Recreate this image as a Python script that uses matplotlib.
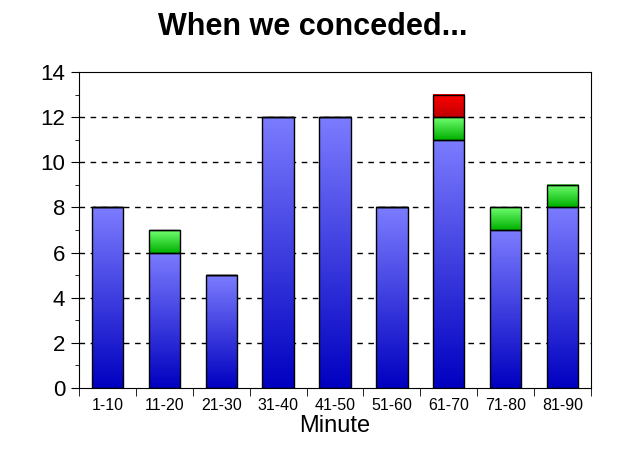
import numpy as np
import matplotlib.pyplot as plt
from matplotlib.colors import LinearSegmentedColormap
from matplotlib.ticker import MultipleLocator, FixedLocator

plt.rcParams['font.family'] = ['Liberation Sans', 'DejaVu Sans']

# data
categories = ['1-10', '11-20', '21-30', '31-40', '41-50', '51-60', '61-70', '71-80', '81-90']
blue_vals = [8, 6, 5, 12, 12, 8, 11, 7, 8]
green_vals = [0, 1, 0, 0, 0, 0, 1, 1, 1]
red_vals = [0, 0, 0, 0, 0, 0, 1, 0, 0]

fig = plt.figure(figsize=(6.25, 4.67), dpi=100)
ax = fig.add_axes([0.1264, 0.1692, 0.8192, 0.6766])

x = np.arange(len(categories))
w = 0.55

b1 = ax.bar(x, blue_vals, w, facecolor='none', edgecolor='black', linewidth=1, zorder=3)
b2 = ax.bar(x, green_vals, w, bottom=blue_vals, facecolor='none', edgecolor='black', linewidth=1, zorder=3)
bottom3 = np.array(blue_vals) + np.array(green_vals)
b3 = ax.bar(x, red_vals, w, bottom=bottom3, facecolor='none', edgecolor='black', linewidth=1, zorder=3)

# gradient fills, dark at the bottom, light at the top
cmaps = [
    LinearSegmentedColormap.from_list('bl', ['#0000c0', '#7c7cff']),
    LinearSegmentedColormap.from_list('gr', ['#00b000', '#70ff70']),
    LinearSegmentedColormap.from_list('rd', ['#c00000', '#ff0000']),
]
grad = np.linspace(0, 1, 256).reshape(-1, 1)
for bars, cm in zip([b1, b2, b3], cmaps):
    for p in bars:
        h = p.get_height()
        if h <= 0:
            continue
        x0, y0 = p.get_x(), p.get_y()
        ax.imshow(grad, cmap=cm, origin='lower', aspect='auto',
                  extent=(x0, x0 + p.get_width(), y0, y0 + h), zorder=2)

ax.set_xlim(-0.5, len(categories) - 0.5)
ax.set_ylim(0, 14)

for yv in range(2, 14, 2):
    ax.axhline(yv, color='black', linestyle=(0, (4, 4)), linewidth=1, zorder=1)

ax.yaxis.set_major_locator(MultipleLocator(2))
ax.yaxis.set_minor_locator(MultipleLocator(1))
ax.tick_params(axis='y', which='major', direction='out', length=6, labelsize=16, pad=4)
ax.tick_params(axis='y', which='minor', direction='out', length=3)

ax.set_xticks(x)
ax.set_xticklabels(categories)
ax.xaxis.set_minor_locator(FixedLocator(np.arange(-0.5, len(categories), 1)))
ax.tick_params(axis='x', which='major', length=0, labelsize=11.5, pad=7)
ax.tick_params(axis='x', which='minor', direction='out', length=6)

ax.set_xlabel('Minute', fontsize=17, labelpad=2)
fig.suptitle('When we conceded...', fontsize=22, fontweight='bold', y=0.975)

fig.savefig('out.png', dpi=100)
